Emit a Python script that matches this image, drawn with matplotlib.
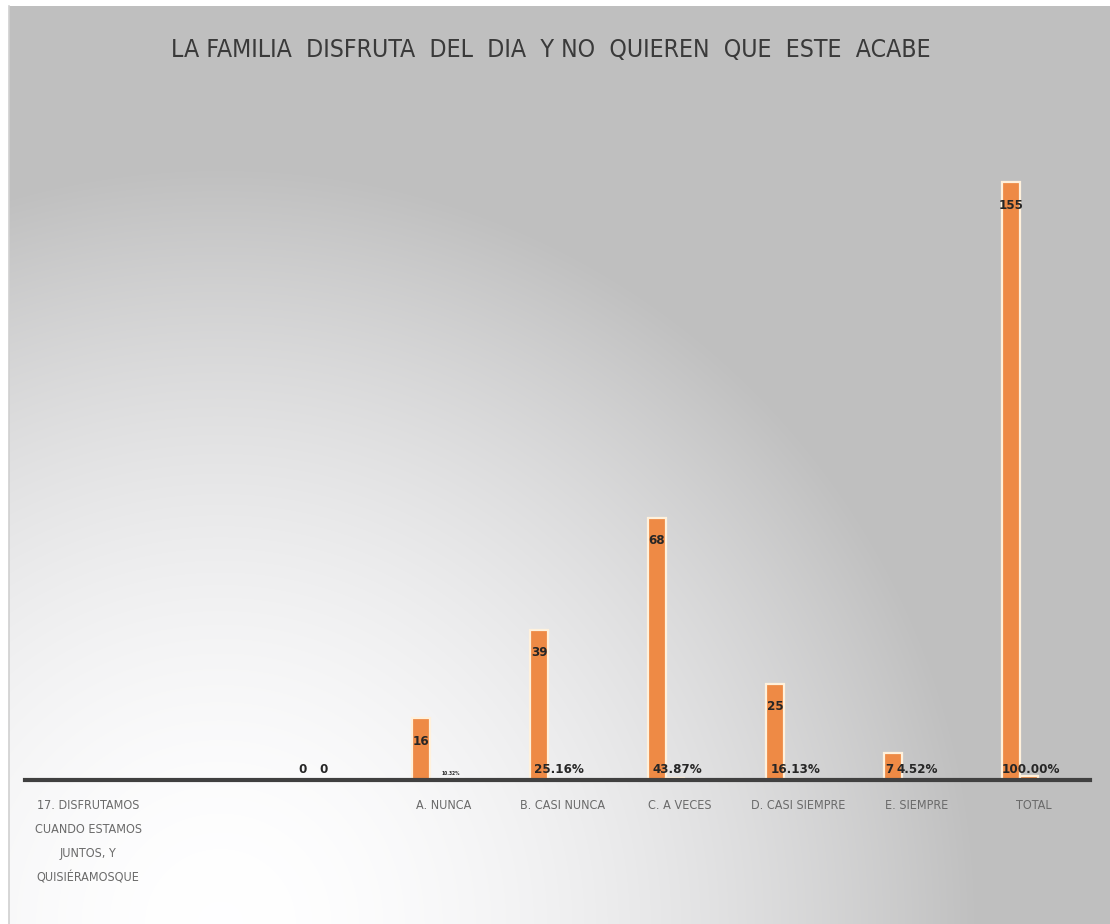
import numpy as np
import matplotlib
matplotlib.use("Agg")
import matplotlib.pyplot as plt
from matplotlib import font_manager as fm

# ---- data ----
categories = ["17. DISFRUTAMOS\nCUANDO ESTAMOS\nJUNTOS, Y\nQUISIÉRAMOSQUE",
              "A. NUNCA", "B. CASI NUNCA", "C. A VECES",
              "D. CASI SIEMPRE", "E. SIEMPRE", "TOTAL"]
counts = [0, 16, 39, 68, 25, 7, 155]
percents = [0.0, 0.1032, 0.2516, 0.4387, 0.1613, 0.0452, 1.0]
count_labels = ["0", "16", "39", "68", "25", "7", "155"]
pct_labels = ["0", "10.32%", "25.16%", "43.87%", "16.13%", "4.52%", "100.00%"]
title = "LA FAMILIA  DISFRUTA  DEL  DIA  Y NO  QUIEREN  QUE  ESTE  ACABE"

names = {f.name for f in fm.fontManager.ttflist}
STRETCH = "normal"
if "Liberation Sans Narrow" in names:
    FONT = "Liberation Sans Narrow"
else:
    p = fm.findfont(fm.FontProperties(family="DejaVu Sans", stretch="condensed"))
    if "Condensed" in p:
        FONT, STRETCH = "DejaVu Sans", "condensed"
    else:
        FONT = "Roboto" if "Roboto" in names else "Liberation Sans"

W, H = 1110, 924
fig = plt.figure(figsize=(W / 100, H / 100), dpi=100)
fig.patch.set_facecolor("white")

# background gradient panel
bg = fig.add_axes([9 / W, 0, (W - 9) / W, (H - 6) / H])
yy, xx = np.mgrid[0:H - 6, 0:W - 9]
xx = xx + 9
yy = yy + 6
d = np.clip(np.hypot(xx - 220, yy - 924) / 760.0, 0, 1)
g = 255 - 64 * d ** 1.8
img = np.dstack([g, g, g + 4 * d * (1 - d)]) / 255.0
bg.imshow(np.clip(img, 0, 1), aspect="auto", extent=[0, 1, 0, 1], origin="upper")
bg.set_xticks([]); bg.set_yticks([])
for s in ["top", "right", "bottom"]:
    bg.spines[s].set_visible(False)
bg.spines["left"].set_color("#d0d0d0")
bg.spines["left"].set_linewidth(1.2)

# main chart axes
px_per_unit = 598 / 155
ymax = 180
ax = fig.add_axes([25 / W, 144 / H, 1065 / W, ymax * px_per_unit / H])
ax.patch.set_alpha(0)
x = np.arange(len(categories))
w = 0.152
orange = "#EE8A45"
edge = "#FFF1DC"
ec_counts = [edge if v > 0 else "none" for v in counts]
ec_pcts = [edge if v > 0 else "none" for v in percents]
ax.bar(x - w / 2, counts, width=w, color=orange, edgecolor=ec_counts, linewidth=1.6, zorder=3)
ax.bar(x + w / 2, percents, width=w, color=orange, edgecolor=ec_pcts, linewidth=1.6, zorder=3)
ax.set_xlim((25 - 312) / 118, (1090 - 312) / 118)
ax.set_ylim(0, ymax)

for s in ["top", "right", "left"]:
    ax.spines[s].set_visible(False)
ax.spines["bottom"].set_color("#404040")
ax.spines["bottom"].set_linewidth(3)
ax.spines["bottom"].set_zorder(4)
ax.set_yticks([])

tick_pos = [(88 - 312) / 118] + list(x[1:] + 0.12)
ax.set_xticks(tick_pos)
ax.set_xticklabels(categories, fontsize=9, color="#6a6a6a", family=FONT,
                   fontstretch=STRETCH, linespacing=2.1)
ax.tick_params(axis="x", length=0, pad=14)

lab_kw = dict(fontsize=9.5, color="#262626", family=FONT, fontstretch=STRETCH,
              ha="center", va="center", fontweight="bold", zorder=5)
for xi, v, t in zip(x, counts, count_labels):
    yv = v - 6 if v > 12 else 2.6
    dx = -0.03 if t == "7" else 0
    ax.text(xi - w / 2 + dx, yv, t, **lab_kw)
for xi, v, t in zip(x, percents, pct_labels):
    kw = dict(lab_kw)
    if t == "10.32%":
        kw["fontsize"] = 3.5
        ax.text(xi + w / 2 + 0.1, 1.6, t, **kw)
        continue
    dx = 0.05 if t == "4.52%" else 0.02
    ax.text(xi + w / 2 + dx, 2.6, t, **kw)

tt = fig.text(551 / W, 1 - 50 / H, title, fontsize=24, color="#3a3a3a", family=FONT,
              fontstretch=STRETCH, ha="center", va="center")
fig.canvas.draw()
tw = tt.get_window_extent(renderer=fig.canvas.get_renderer()).width
if tw > 760:
    tt.set_fontsize(24 * 760 / tw)

fig.savefig("out.png", dpi=100)
